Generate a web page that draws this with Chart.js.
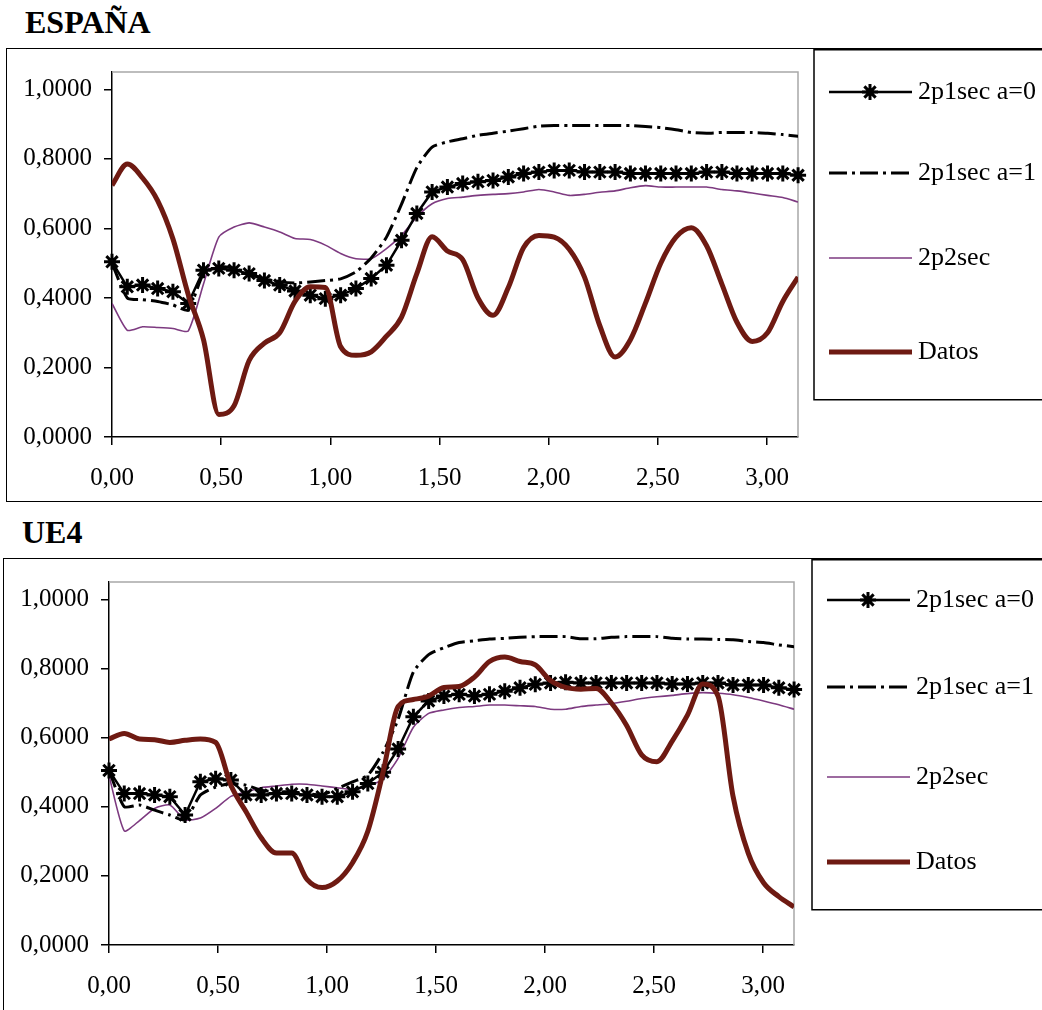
<!DOCTYPE html>
<html>
<head>
<meta charset="utf-8">
<script src="https://cdn.jsdelivr.net/npm/chart.js@4.4.0/dist/chart.umd.min.js"></script>
<style>
  body { margin: 0; background: #fff; width: 1042px; height: 1010px; overflow: hidden; position: relative; font-family: "Liberation Serif", "Times New Roman", serif; }
  .titulo { position: absolute; font-weight: bold; font-size: 32px; line-height: 32px; color: #000; }
  .marco { position: absolute; border: 1.5px solid #000; box-sizing: border-box; }
  canvas { position: absolute; left: 0; }
</style>
</head>
<body>
<div class="titulo" style="left:25px; top:6px;">ESPAÑA</div>
<div class="marco" style="left:6px; top:48px; width:1100px; height:454px;"></div>
<canvas id="chartEspana" width="1042" height="453" style="top:49px;"></canvas>

<div class="titulo" style="left:22px; top:516px;">UE4</div>
<div class="marco" style="left:3px; top:558px; width:1100px; height:500px;"></div>
<canvas id="chartUE4" width="1042" height="451" style="top:559px;"></canvas>

<script>
// Frecuencias (eje X, 0 a pi)
const frecuencias = [0.000, 0.070, 0.140, 0.209, 0.279, 0.349, 0.419, 0.489, 0.559, 0.628,
  0.698, 0.768, 0.838, 0.908, 0.977, 1.047, 1.117, 1.187, 1.257, 1.326,
  1.396, 1.466, 1.536, 1.606, 1.676, 1.745, 1.815, 1.885, 1.955, 2.025,
  2.094, 2.164, 2.234, 2.304, 2.374, 2.443, 2.513, 2.583, 2.653, 2.723,
  2.793, 2.862, 2.932, 3.002, 3.072, 3.142];

const etiquetas = ['2p1sec a=0', '2p1sec a=1', '2p2sec', 'Datos'];

// ESPAÑA
const esp_a0 = [0.504, 0.432, 0.437, 0.427, 0.418, 0.384, 0.480, 0.485, 0.480, 0.470,
  0.450, 0.437, 0.420, 0.408, 0.398, 0.408, 0.427, 0.456, 0.494, 0.566,
  0.643, 0.705, 0.719, 0.729, 0.734, 0.738, 0.748, 0.758, 0.762, 0.767,
  0.767, 0.762, 0.762, 0.762, 0.758, 0.758, 0.758, 0.758, 0.758, 0.762,
  0.762, 0.758, 0.758, 0.758, 0.758, 0.753];
const esp_a1 = [0.500, 0.400, 0.395, 0.390, 0.380, 0.365, 0.470, 0.490, 0.485, 0.470,
  0.455, 0.447, 0.443, 0.446, 0.450, 0.455, 0.475, 0.515, 0.575, 0.670,
  0.775, 0.834, 0.849, 0.858, 0.868, 0.874, 0.880, 0.887, 0.894, 0.896,
  0.896, 0.896, 0.896, 0.896, 0.896, 0.893, 0.890, 0.884, 0.876, 0.874,
  0.876, 0.876, 0.876, 0.874, 0.870, 0.865];
const esp_2p2 = [0.384, 0.307, 0.317, 0.315, 0.312, 0.305, 0.440, 0.575, 0.604, 0.616,
  0.604, 0.590, 0.571, 0.568, 0.552, 0.528, 0.513, 0.513, 0.542, 0.580,
  0.633, 0.671, 0.686, 0.690, 0.695, 0.698, 0.700, 0.705, 0.712, 0.705,
  0.695, 0.698, 0.704, 0.708, 0.717, 0.723, 0.719, 0.719, 0.719, 0.719,
  0.712, 0.708, 0.702, 0.695, 0.689, 0.676];
const esp_datos = [0.724, 0.785, 0.745, 0.680, 0.570, 0.410, 0.280, 0.065, 0.090, 0.220,
  0.270, 0.300, 0.390, 0.432, 0.430, 0.260, 0.235, 0.245, 0.290, 0.345,
  0.470, 0.576, 0.535, 0.510, 0.400, 0.350, 0.430, 0.545, 0.580, 0.575,
  0.540, 0.460, 0.320, 0.230, 0.280, 0.385, 0.500, 0.575, 0.602, 0.550,
  0.440, 0.330, 0.275, 0.300, 0.390, 0.460];

// UE4
const ue4_a0 = [0.505, 0.438, 0.438, 0.434, 0.429, 0.376, 0.472, 0.481, 0.477, 0.434,
  0.434, 0.438, 0.438, 0.434, 0.429, 0.429, 0.443, 0.467, 0.500, 0.567,
  0.660, 0.706, 0.720, 0.725, 0.720, 0.725, 0.734, 0.744, 0.754, 0.758,
  0.760, 0.758, 0.758, 0.758, 0.758, 0.758, 0.758, 0.755, 0.755, 0.758,
  0.758, 0.752, 0.752, 0.752, 0.744, 0.739];
const ue4_a1 = [0.505, 0.400, 0.405, 0.390, 0.376, 0.362, 0.434, 0.457, 0.467, 0.462,
  0.448, 0.443, 0.443, 0.438, 0.434, 0.453, 0.472, 0.491, 0.558, 0.653,
  0.790, 0.840, 0.860, 0.875, 0.880, 0.885, 0.887, 0.890, 0.892, 0.892,
  0.892, 0.886, 0.886, 0.890, 0.892, 0.892, 0.892, 0.887, 0.885, 0.885,
  0.884, 0.883, 0.878, 0.875, 0.868, 0.863];
const ue4_2p2 = [0.490, 0.330, 0.360, 0.395, 0.405, 0.362, 0.367, 0.395, 0.430, 0.443,
  0.455, 0.460, 0.465, 0.465, 0.460, 0.455, 0.450, 0.460, 0.480, 0.540,
  0.630, 0.670, 0.680, 0.687, 0.690, 0.694, 0.694, 0.692, 0.690, 0.682,
  0.682, 0.690, 0.694, 0.698, 0.705, 0.713, 0.718, 0.722, 0.727, 0.730,
  0.728, 0.724, 0.716, 0.706, 0.695, 0.682];
const ue4_datos = [0.596, 0.612, 0.596, 0.594, 0.586, 0.592, 0.596, 0.586, 0.462, 0.386,
  0.310, 0.266, 0.266, 0.190, 0.166, 0.185, 0.238, 0.329, 0.500, 0.690,
  0.710, 0.720, 0.745, 0.748, 0.775, 0.820, 0.833, 0.820, 0.810, 0.765,
  0.745, 0.740, 0.742, 0.700, 0.635, 0.550, 0.530, 0.590, 0.665, 0.755,
  0.720, 0.430, 0.265, 0.180, 0.140, 0.110];

const fuente = '"Liberation Serif", "Times New Roman", serif';

// Marco gris del area de trazado (arriba y derecha)
const marcoTrazado = {
    id: 'marcoTrazado',
    beforeDatasetsDraw(chart) {
        const { ctx, chartArea: a } = chart;
        ctx.save();
        ctx.strokeStyle = '#a8a8a8';
        ctx.lineWidth = 1.5;
        ctx.beginPath();
        ctx.moveTo(a.left, a.top);
        ctx.lineTo(a.right, a.top);
        ctx.lineTo(a.right, a.bottom);
        ctx.stroke();
        ctx.restore();
    }
};

// Leyenda a la derecha, dentro de un recuadro
const leyendaLateral = {
    id: 'leyendaLateral',
    afterDraw(chart, args, opts) {
        const ctx = chart.ctx;
        ctx.save();
        ctx.strokeStyle = '#000';
        ctx.lineWidth = 1.5;
        ctx.strokeRect(opts.x, 0.75, chart.width - opts.x + 10, opts.h);
        chart.data.datasets.forEach((ds, i) => {
            const y = opts.filas[i];
            ctx.save();
            ctx.strokeStyle = ds.borderColor;
            ctx.lineWidth = ds.borderWidth;
            ctx.setLineDash(ds.borderDash || []);
            ctx.beginPath();
            ctx.moveTo(opts.x + 15, y);
            ctx.lineTo(opts.x + 98, y);
            ctx.stroke();
            ctx.restore();
            if (ds.pointRadius > 0) {
                ctx.save();
                ctx.strokeStyle = ds.pointBorderColor;
                ctx.fillStyle = ds.pointBorderColor;
                ctx.lineWidth = ds.pointBorderWidth;
                Chart.helpers.drawPoint(ctx, { pointStyle: ds.pointStyle, radius: ds.pointRadius, borderWidth: ds.pointBorderWidth, rotation: 0 }, opts.x + 56, y);
                ctx.restore();
            }
            ctx.fillStyle = '#000';
            ctx.font = '26px ' + fuente;
            ctx.textBaseline = 'middle';
            ctx.fillText(ds.label, opts.x + 104, y);
        });
        ctx.restore();
    }
};

function serie(valores) {
    return frecuencias.map((x, i) => ({ x: x, y: valores[i] }));
}

function crearGrafico(id, a0, a1, p2, datos, legendaX, filas, ladoDerecho, anchoEjeY) {
    const ctx = document.getElementById(id).getContext('2d');
    return new Chart(ctx, {
        type: 'line',
        data: {
            datasets: [
                { label: etiquetas[0], data: serie(a0), borderColor: '#000', borderWidth: 2.5,
                  pointStyle: 'star', pointRadius: 8, pointBorderWidth: 3, pointBorderColor: '#000',
                  pointBackgroundColor: '#000', tension: 0, clip: false, order: 1 },
                { label: etiquetas[1], data: serie(a1), borderColor: '#000', borderWidth: 3,
                  borderDash: [18, 5, 3, 5], pointRadius: 0, tension: 0.2, order: 2 },
                { label: etiquetas[2], data: serie(p2), borderColor: '#7d3a80', borderWidth: 1.6,
                  pointRadius: 0, tension: 0.2, order: 3 },
                { label: etiquetas[3], data: serie(datos), borderColor: '#6e1a12', borderWidth: 5,
                  pointRadius: 0, cubicInterpolationMode: 'monotone', order: 0 }
            ]
        },
        options: {
            responsive: false,
            animation: false,
            layout: { padding: { left: 0, top: 23, right: ladoDerecho, bottom: 0 } },
            plugins: {
                legend: { display: false },
                tooltip: { enabled: false },
                leyendaLateral: { x: legendaX, h: 350, filas: filas }
            },
            scales: {
                x: {
                    type: 'linear', min: 0, max: Math.PI,
                    ticks: { stepSize: 0.5, includeBounds: false, autoSkip: false, maxRotation: 0,
                             color: '#000', padding: 18, font: { family: fuente, size: 25 },
                             callback: v => v.toFixed(2).replace('.', ',') },
                    grid: { drawOnChartArea: false, tickLength: 8, color: '#000', lineWidth: 1.5 },
                    border: { color: '#000', width: 1.5 },
                    afterFit: s => { s.height = 65; s.paddingLeft = 0; s.paddingRight = 0; }
                },
                y: {
                    min: 0, max: 1.05,
                    ticks: { stepSize: 0.2, includeBounds: false, color: '#000', padding: 12,
                             font: { family: fuente, size: 25 },
                             callback: v => v.toFixed(4).replace('.', ',') },
                    grid: { drawOnChartArea: false, tickLength: 8, color: '#000', lineWidth: 1.5 },
                    border: { color: '#000', width: 1.5 },
                    afterFit: s => { s.width = anchoEjeY; s.paddingTop = 0; s.paddingBottom = 0; }
                }
            }
        },
        plugins: [marcoTrazado, leyendaLateral]
    });
}

crearGrafico('chartEspana', esp_a0, esp_a1, esp_2p2, esp_datos, 814, [43, 124, 209, 303], 244, 112);
crearGrafico('chartUE4', ue4_a0, ue4_a1, ue4_2p2, ue4_datos, 812, [41, 128, 218, 303], 248, 109);
</script>
</body>
</html>
